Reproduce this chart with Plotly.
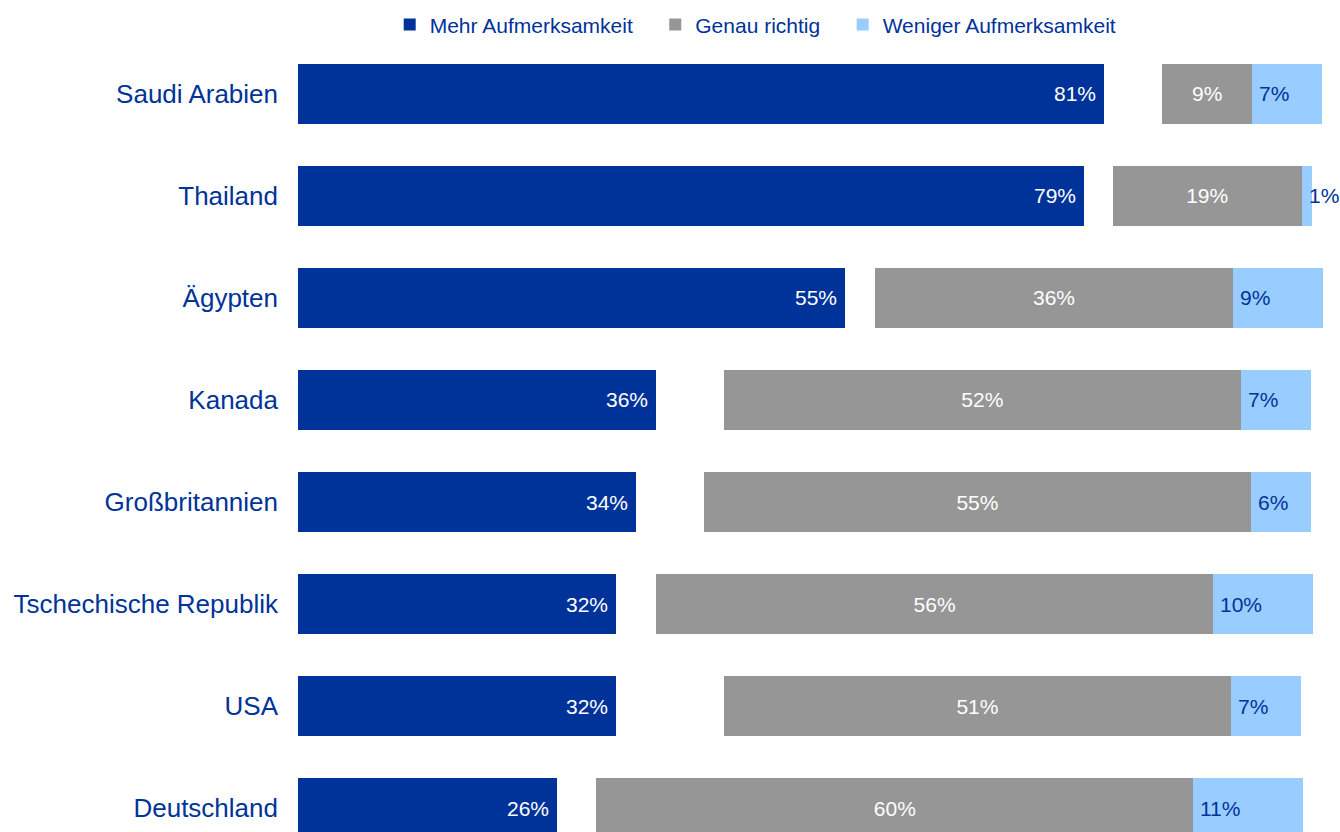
import plotly.graph_objects as go

countries = ["Saudi Arabien", "Thailand", "Ägypten", "Kanada", "Großbritannien",
             "Tschechische Republik", "USA", "Deutschland"]
mehr = [81, 79, 55, 36, 34, 32, 32, 26]
genau = [9, 19, 36, 52, 55, 56, 51, 60]
weniger = [7, 1, 9, 7, 6, 10, 7, 11]
# spacing between the first and second segment (in %)
luecke = [5.9, 2.9, 3.0, 6.8, 6.8, 4.0, 10.8, 4.0]
series_names = ["Mehr Aufmerksamkeit", "Genau richtig", "Weniger Aufmerksamkeit"]

BLUE = "#003399"
GREY = "#969696"
LIGHT = "#99CCFF"
FONT = "Liberation Sans, Arial, sans-serif"
PAD = "\u00a0\u00a0\u00a0"

fig = go.Figure()
fig.add_trace(go.Bar(y=countries, x=mehr, orientation="h", name=series_names[0] + PAD,
                     marker=dict(color=BLUE, line=dict(width=0)), hoverinfo="x"))
fig.add_trace(go.Bar(y=countries, x=luecke, orientation="h", showlegend=False,
                     marker=dict(color="rgba(0,0,0,0)", line=dict(width=0)), hoverinfo="skip"))
fig.add_trace(go.Bar(y=countries, x=genau, orientation="h", name=series_names[1] + PAD,
                     marker=dict(color=GREY, line=dict(width=0)),
                     text=[f"{v}%" for v in genau], textposition="inside",
                     insidetextanchor="middle", textangle=0,
                     textfont=dict(color="white", size=21, family=FONT), hoverinfo="x"))
fig.add_trace(go.Bar(y=countries, x=weniger, orientation="h", name=series_names[2],
                     marker=dict(color=LIGHT, line=dict(width=0)), hoverinfo="x"))

annotations = []
for c, m in zip(countries, mehr):
    annotations.append(dict(x=m, y=c, xref="x", yref="y", text=f"{m}%", showarrow=False,
                            xanchor="right", xshift=-6,
                            font=dict(color="white", size=21, family=FONT)))
for c, m, g, gn, w in zip(countries, mehr, luecke, genau, weniger):
    annotations.append(dict(x=m + g + gn, y=c, xref="x", yref="y", text=f"{w}%",
                            showarrow=False, xanchor="left", xshift=5,
                            font=dict(color=BLUE, size=21, family=FONT)))

fig.update_layout(
    width=1340, height=832,
    margin=dict(l=298, r=0, t=40, b=0),
    barmode="stack", bargap=0.412,
    plot_bgcolor="white", paper_bgcolor="white",
    font=dict(family=FONT, color=BLUE),
    xaxis=dict(range=[0, 104.75], visible=False, showgrid=False, zeroline=False),
    yaxis=dict(range=[7.235, -0.529], showgrid=False, zeroline=False, showline=False,
               ticks="", ticklabelstandoff=19,
               tickfont=dict(size=26, color=BLUE, family=FONT)),
    legend=dict(orientation="h", x=0.088, xanchor="left", y=1.045, yanchor="top",
                font=dict(size=21, color=BLUE, family=FONT), traceorder="normal",
                itemclick=False),
    annotations=annotations,
)

fig.write_html("out.html")
